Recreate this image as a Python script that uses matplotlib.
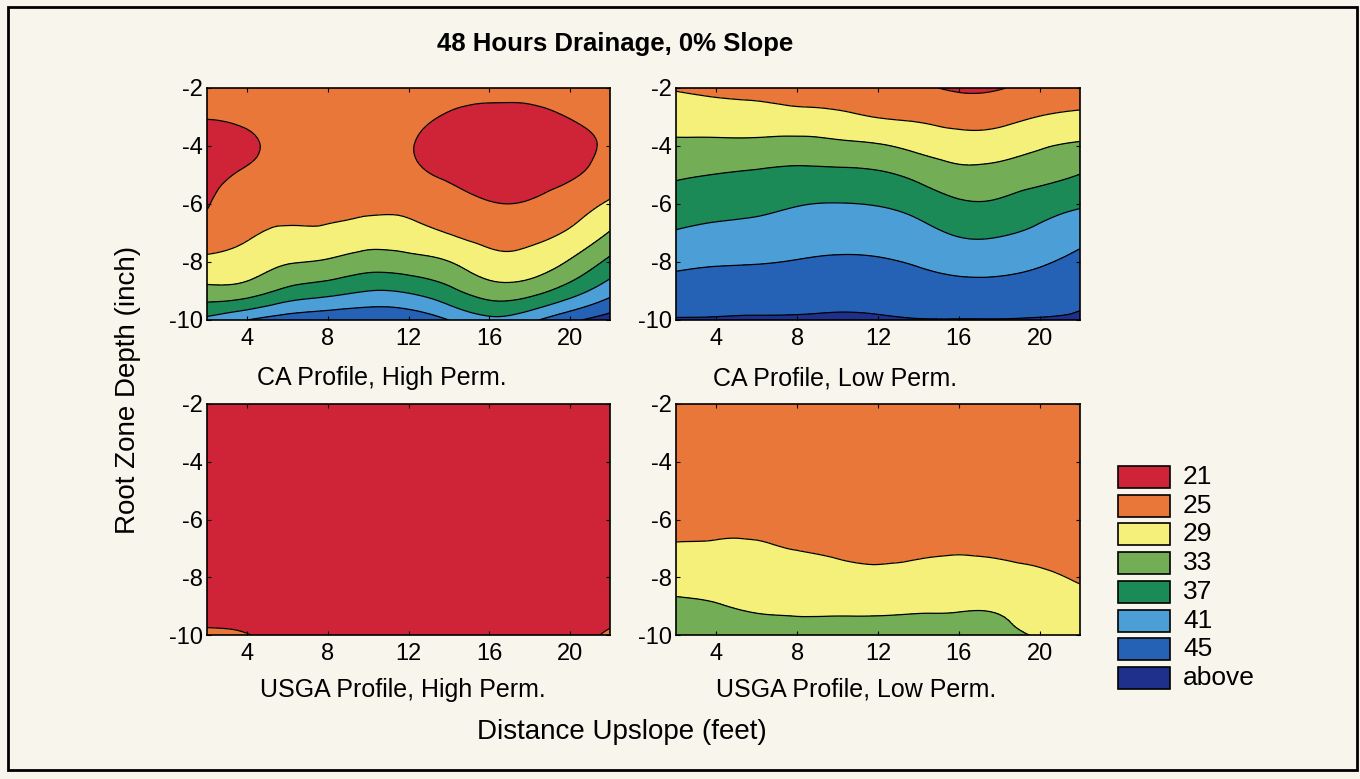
import numpy as np
import matplotlib
matplotlib.use("Agg")
import matplotlib.pyplot as plt
import matplotlib.tri as mtri
from matplotlib.patches import Rectangle

plt.rcParams['font.family'] = ['Liberation Sans', 'DejaVu Sans']
plt.rcParams['axes.unicode_minus'] = False

# grid of the measurements
distance_ft = [2, 4, 6, 8, 10, 12, 14, 16, 18, 20, 22]
depth_in = [-2, -3, -4, -5, -6, -7, -8, -9, -10]

# one profile (depth -2 .. -10) per distance
ca_high = [
    [22.5, 21.3, 18.0, 19.0, 20.7, 23.0, 25.8, 30.3, 38.0],
    [23.0, 22.0, 20.2, 21.8, 23.5, 24.5, 26.8, 31.0, 41.0],
    [23.5, 23.0, 22.5, 23.0, 23.8, 25.6, 28.7, 34.0, 43.0],
    [24.0, 23.5, 23.5, 23.8, 24.3, 25.6, 29.5, 35.5, 44.0],
    [23.5, 23.2, 23.2, 23.8, 24.4, 26.6, 31.0, 37.0, 44.5],
    [23.0, 22.0, 21.3, 22.0, 24.0, 26.3, 30.5, 36.5, 44.0],
    [22.0, 20.7, 19.5, 20.5, 22.5, 24.9, 29.1, 34.0, 41.0],
    [22.0, 20.0, 18.5, 19.5, 21.2, 23.5, 26.5, 31.0, 38.0],
    [22.2, 20.0, 18.5, 19.5, 21.3, 23.8, 26.5, 31.5, 40.0],
    [22.5, 21.1, 19.8, 20.5, 23.0, 25.5, 29.4, 35.0, 44.0],
    [23.0, 22.0, 21.5, 23.0, 25.5, 29.3, 34.0, 39.5, 47.0],
]
ca_low = [
    [24.7, 27.3, 29.8, 32.5, 34.9, 37.3, 40.1, 42.8, 45.2],
    [24.2, 26.8, 30.0, 33.1, 35.5, 38.0, 40.6, 43.2, 45.2],
    [23.8, 26.6, 30.1, 33.6, 36.0, 38.4, 40.8, 43.3, 45.3],
    [23.5, 26.2, 30.5, 34.0, 36.8, 39.0, 41.2, 43.5, 45.3],
    [23.0, 25.8, 30.0, 34.0, 37.1, 39.3, 41.6, 43.8, 45.4],
    [22.5, 24.9, 29.4, 33.6, 36.8, 39.2, 41.4, 43.6, 45.3],
    [21.5, 24.4, 28.0, 32.0, 35.5, 38.2, 40.6, 43.0, 45.1],
    [20.6, 23.5, 27.0, 30.2, 33.6, 36.6, 39.6, 42.4, 45.1],
    [20.8, 23.8, 27.2, 30.5, 33.6, 36.6, 39.6, 42.4, 45.1],
    [22.2, 25.1, 28.6, 31.6, 35.2, 37.8, 40.5, 43.0, 45.2],
    [22.8, 25.8, 29.6, 33.1, 36.5, 39.5, 42.2, 44.2, 45.3],
]
usga_high = [
    [19.0, 19.0, 19.0, 19.0, 19.0, 19.0, 19.0, 19.0, 22.0],
    [19.0, 19.0, 19.0, 19.0, 19.0, 19.0, 19.0, 19.0, 21.2],
    [19.0, 19.0, 19.0, 19.0, 19.0, 19.0, 19.0, 19.0, 19.0],
    [19.0, 19.0, 19.0, 19.0, 19.0, 19.0, 19.0, 19.0, 19.0],
    [19.0, 19.0, 19.0, 19.0, 19.0, 19.0, 19.0, 19.0, 19.0],
    [19.0, 19.0, 19.0, 19.0, 19.0, 19.0, 19.0, 19.0, 19.0],
    [19.0, 19.0, 19.0, 19.0, 19.0, 19.0, 19.0, 19.0, 19.0],
    [19.0, 19.0, 19.0, 19.0, 19.0, 19.0, 19.0, 19.0, 19.0],
    [19.0, 19.0, 19.0, 19.0, 19.0, 19.0, 19.0, 19.0, 19.0],
    [19.0, 19.0, 19.0, 19.0, 19.0, 19.0, 19.0, 19.0, 19.0],
    [19.0, 19.0, 19.0, 19.0, 19.0, 19.0, 19.0, 19.0, 21.8],
]
usga_low = [
    [22.0, 22.5, 23.0, 23.8, 24.6, 25.2, 27.2, 29.8, 31.5],
    [22.0, 22.5, 23.0, 23.8, 24.6, 25.3, 27.2, 29.2, 30.8],
    [22.0, 22.5, 23.0, 23.7, 24.5, 25.3, 27.0, 28.6, 30.4],
    [22.0, 22.4, 22.9, 23.5, 24.2, 24.9, 26.8, 28.5, 29.8],
    [22.0, 22.3, 22.8, 23.4, 24.0, 24.7, 26.0, 28.4, 29.6],
    [22.0, 22.3, 22.8, 23.3, 23.9, 24.5, 25.8, 28.4, 29.5],
    [22.0, 22.3, 22.8, 23.4, 24.0, 24.7, 26.0, 28.5, 29.7],
    [22.0, 22.4, 22.9, 23.5, 24.1, 24.8, 26.2, 28.6, 30.0],
    [22.0, 22.3, 22.8, 23.4, 24.0, 24.7, 26.0, 28.5, 29.5],
    [22.0, 22.2, 22.6, 23.1, 23.7, 24.3, 25.5, 27.2, 28.8],
    [22.0, 22.2, 22.5, 22.9, 23.3, 23.8, 24.7, 26.2, 27.8],
]

level_labels = ['21', '25', '29', '33', '37', '41', '45', 'above']
levels = [0, 21, 25, 29, 33, 37, 41, 45, 60]
colors = ['#cf2338', '#ea773a', '#f5f07a', '#73ad56', '#1b8a57',
          '#4b9fd6', '#2562b6', '#1f2f8c']

panels = [
    (ca_high, 'CA Profile, High Perm.'),
    (ca_low, 'CA Profile, Low Perm.'),
    (usga_high, 'USGA Profile, High Perm.'),
    (usga_low, 'USGA Profile, Low Perm.'),
]

W, H = 1360, 779
bg = '#f8f6ec'
fig = plt.figure(figsize=(W / 100, H / 100), dpi=100, facecolor=bg)

# axes boxes in pixels: left, top, right, bottom
boxes = [(207, 88, 610, 320), (676, 88, 1080, 320),
         (207, 404, 610, 635), (676, 404, 1080, 635)]
label_pos = [(257, 378), (713, 378), (260, 690), (716, 690)]

X, Y = np.meshgrid(distance_ft, depth_in)
triang = mtri.Triangulation(X.ravel(), Y.ravel())
refiner = mtri.UniformTriRefiner(triang)

for (data, name), (l, t, r, b), (lx, ly) in zip(panels, boxes, label_pos):
    ax = fig.add_axes([l / W, 1 - b / H, (r - l) / W, (b - t) / H])
    Z = np.array(data).T
    # smooth surface like the original software draws
    tri_s, z_s = refiner.refine_field(Z.ravel(), subdiv=3)
    ax.tricontourf(tri_s, z_s, levels=levels, colors=colors)
    ax.tricontour(tri_s, z_s, levels=levels[1:-1], colors='black',
                  linewidths=0.9)
    ax.set_xlim(2, 22)
    ax.set_ylim(-10, -2)
    ax.set_xticks([4, 8, 12, 16, 20])
    ax.set_yticks([-2, -4, -6, -8, -10])
    ax.tick_params(direction='in', length=3, top=True, right=True,
                   labelsize=17)
    ax.tick_params(axis='x', pad=6)
    ax.tick_params(axis='y', pad=3)
    for s in ax.spines.values():
        s.set_linewidth(1.2)
    fig.text(lx / W, 1 - ly / H, name, fontsize=18, ha='left', va='center')

fig.text(615 / W, 1 - 44 / H, '48 Hours Drainage, 0% Slope', fontsize=18.5,
         fontweight='bold', ha='center', va='center')
fig.text(128 / W, 1 - 390 / H, 'Root Zone Depth (inch)', fontsize=20,
         rotation=90, ha='center', va='center')
fig.text(622 / W, 1 - 732 / H, 'Distance Upslope (feet)', fontsize=20,
         ha='center', va='center')

# legend
for i, (c, lab) in enumerate(zip(colors, level_labels)):
    yc = 477 + i * 28.7
    fig.add_artist(Rectangle((1118 / W, 1 - (yc + 11) / H), 52 / W, 22 / H,
                             facecolor=c, edgecolor='black', lw=1.2,
                             transform=fig.transFigure))
    fig.text(1183 / W, 1 - yc / H, lab, fontsize=19, ha='left', va='center')

# outer frame
fig.add_artist(Rectangle((8 / W, 1 - 770 / H), 1349 / W, 763 / H, fill=False,
                         edgecolor='black', lw=2, transform=fig.transFigure))

fig.savefig('out.png', dpi=100, facecolor=bg)
